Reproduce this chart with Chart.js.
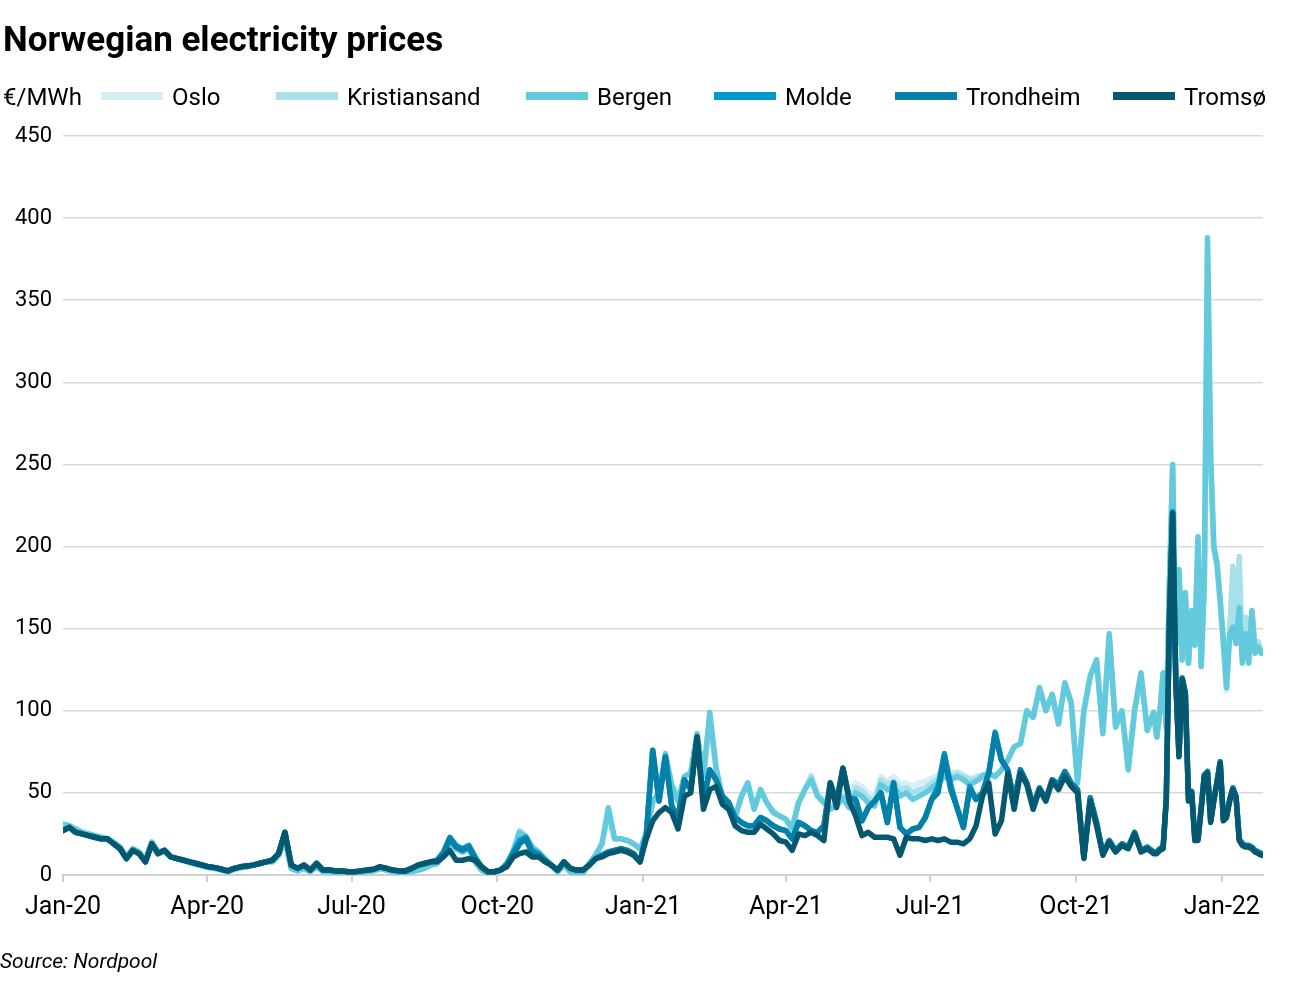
<!DOCTYPE html>
<html>
<head>
<meta charset="utf-8">
<script src="https://cdn.jsdelivr.net/npm/chart.js@4.4.1/dist/chart.umd.min.js"></script>
<style>
  html, body { margin: 0; padding: 0; background: #fff; }
  #chart { display: block; }
</style>
</head>
<body>
<canvas id="chart" width="1300" height="1000"></canvas>
<script>
// Daily prices, sampled every 4 days up to mid Nov 2021, then every 2 days (day 0 = 1 Jan 2020)
const titleText = 'Norwegian electricity prices';
const unitText = '€/MWh';
const sourceText = 'Source: Nordpool';

const seriesNames = ['Oslo', 'Kristiansand', 'Bergen', 'Molde', 'Trondheim', 'Tromsø'];
const seriesColors = ['#d5eff4', '#a9e1ea', '#63cadd', '#0099cc', '#0581a9', '#05586f'];

const tickDays = [0, 91, 182, 274, 366, 456, 547, 639, 731];
const tickLabels = ['Jan-20', 'Apr-20', 'Jul-20', 'Oct-20', 'Jan-21', 'Apr-21', 'Jul-21', 'Oct-21', 'Jan-22'];

const sampleDays = [];
for (let d = 0; d < 690; d += 4) sampleDays.push(d);
for (let d = 690; d <= 756; d += 2) sampleDays.push(d);

const oslo = [
  30, 29, 27, 26, 25, 24, 23, 22, 20, 17,
  11, 16, 14, 9, 20, 14, 15, 11, 10, 9,
  7.5, 6.5, 5.5, 4.5, 4, 3, 2, 3.5, 4.5, 5,
  6, 7, 8, 8, 12, 22, 4, 2.5, 4, 2,
  5, 2, 2, 1.5, 1.5, 1.5, 1.5, 1.5, 2, 2.5,
  4, 3, 2, 1.5, 1.5, 2, 3, 4, 6, 7,
  12, 20, 16, 14, 16, 8, 3, 1, 1.5, 3,
  6, 15, 26, 23, 17, 14, 10, 6, 2, 6,
  2, 1, 1, 7, 12, 19, 36, 22, 22, 21,
  19, 16, 25, 44, 50, 72, 55, 45, 60, 62,
  84, 60, 92, 65, 47, 42, 36, 48, 56, 41,
  52, 44, 39, 36, 34, 29, 44, 52, 61, 49,
  46, 42, 45, 50, 47, 56, 54, 50, 48, 60,
  57, 60, 55, 56, 54, 56, 57, 59, 61, 63,
  62, 63, 61, 59, 60, 61, 62, 60, 64, 70,
  78, 80, 100, 96, 114, 100, 110, 92, 117, 105,
  58, 100, 121, 131, 88, 145, 92, 100, 66, 100,
  123, 88, 99,
  84, 100, 123, 90, 178, 248, 140, 186, 131, 170,
  129, 161, 140, 204, 127, 178, 375, 250, 198, 188,
  165, 140, 112, 148, 175, 148, 180, 133, 150, 138,
  155, 138, 140, 135
];

const kristiansand = [
  30, 29, 27, 26, 25, 24, 23, 22, 20, 17,
  11, 16, 14, 9, 20, 14, 15, 11, 10, 9,
  7.5, 6.5, 5.5, 4.5, 4, 3, 2, 3.5, 4.5, 5,
  6, 7, 8, 8, 12, 22, 4, 2.5, 4, 2,
  5, 2, 2, 1.5, 1.5, 1.5, 1.5, 1.5, 2, 2.5,
  4, 3, 2, 1.5, 1.5, 2, 3, 4, 6, 7,
  12, 20, 16, 14, 16, 8, 3, 1, 1.5, 3,
  6, 15, 27, 24, 17, 14, 10, 6, 2, 6,
  2, 1, 1, 7, 12, 19, 38, 22, 22, 21,
  19, 16, 25, 44, 50, 72, 55, 45, 60, 62,
  86, 60, 95, 65, 47, 42, 36, 48, 56, 41,
  52, 44, 39, 36, 34, 29, 44, 52, 60, 49,
  45, 41, 43, 48, 44, 53, 51, 47, 45, 58,
  55, 57, 52, 53, 50, 52, 53, 56, 59, 62,
  60, 62, 60, 58, 59, 61, 62, 60, 64, 70,
  78, 80, 100, 96, 114, 100, 110, 92, 117, 105,
  58, 100, 121, 131, 88, 145, 92, 100, 66, 100,
  123, 88, 99,
  84, 100, 123, 90, 178, 248, 140, 186, 131, 170,
  129, 161, 140, 204, 127, 178, 380, 250, 198, 188,
  167, 142, 114, 150, 188, 150, 194, 135, 157, 140,
  161, 140, 142, 136
];

const bergen = [
  31, 30, 28, 26, 25, 24, 23, 22, 20, 17,
  11, 16, 14, 9, 20, 14, 15, 11, 10, 9,
  7.5, 6.5, 5.5, 4.5, 4, 3, 2, 3.5, 4.5, 5,
  6, 7, 8, 8, 12, 22, 4, 2.5, 4, 2,
  5, 2, 2, 1.5, 1.5, 1.5, 1.5, 1.5, 2, 2.5,
  4, 3, 2, 1.5, 1.5, 2, 3, 4, 6, 7,
  12, 20, 16, 14, 16, 8, 3, 1, 1.5, 3,
  6, 14, 26, 23, 17, 14, 10, 6, 2, 6,
  2, 1, 1, 7, 12, 19, 41, 22, 22, 21,
  19, 16, 25, 45, 50, 74, 55, 45, 60, 62,
  86, 60, 99, 65, 47, 42, 35, 48, 56, 40,
  52, 44, 38, 36, 34, 28, 44, 52, 58, 48,
  44, 40, 42, 47, 41, 50, 48, 44, 42, 55,
  52, 54, 48, 50, 46, 48, 50, 53, 56, 60,
  58, 60, 58, 55, 57, 60, 62, 60, 64, 70,
  78, 80, 100, 96, 114, 100, 110, 92, 117, 105,
  56, 100, 121, 131, 86, 147, 90, 100, 64, 100,
  123, 88, 99,
  84, 100, 123, 90, 178, 250, 140, 186, 131, 172,
  129, 161, 140, 206, 127, 180, 388, 255, 200, 190,
  167, 142, 114, 147, 151, 141, 163, 129, 147, 129,
  161, 135, 139, 135
];

const molde = [
  27, 29, 26, 25, 24, 23, 22, 22, 19, 16,
  10, 15, 13, 8, 19, 13, 15, 11, 10, 9,
  8, 7, 6, 5, 4.5, 3.5, 2.5, 4, 5, 5.5,
  6, 7, 8, 9, 13, 26, 6, 4, 6, 3,
  7, 3, 3, 2.5, 2.5, 2, 2, 2.5, 3, 3.5,
  5, 4, 3, 2.5, 2.5, 4, 6, 7, 8, 9,
  14, 23, 18, 16, 18, 11, 5, 2, 2, 3,
  7, 14, 21, 23, 15, 13, 9, 6, 3, 8,
  4, 3, 3, 6, 10, 12, 14, 15, 16, 15,
  13, 8, 25, 76, 45, 72, 42, 35, 58, 52,
  84, 45, 64, 58, 48, 44, 35, 32, 30, 30,
  35, 33, 30, 28, 27, 22, 32, 30, 27, 26,
  30, 56, 45, 65, 47, 46, 33, 41, 45, 50,
  32, 56, 29, 25, 28, 29, 35, 46, 54, 74,
  55, 41, 29, 54, 46, 50, 62, 87, 70, 64,
  45, 64, 56, 42, 53, 46, 58, 55, 63, 56,
  52, 11, 47, 32, 13, 21, 15, 19, 17, 26,
  15, 17, 14,
  14, 16, 17, 47, 158, 221, 118, 73, 120, 111,
  46, 51, 22, 22, 41, 61, 63, 33, 46, 57,
  69, 34, 36, 46, 53, 48, 22, 19, 18, 18,
  17, 15, 14, 13
];

const trondheim = [
  27, 29, 26, 25, 24, 23, 22, 22, 19, 16,
  10, 15, 13, 8, 19, 13, 15, 11, 10, 9,
  8, 7, 6, 5, 4.5, 3.5, 2.5, 4, 5, 5.5,
  6, 7, 8, 9, 13, 26, 6, 4, 6, 3,
  7, 3, 3, 2.5, 2.5, 2, 2, 2.5, 3, 3.5,
  5, 4, 3, 2.5, 2.5, 4, 6, 7, 8, 9,
  13, 22, 17, 15, 17, 10, 5, 2, 2, 3,
  6, 12, 19, 22, 13, 12, 9, 6, 3, 8,
  4, 3, 3, 6, 10, 12, 14, 15, 16, 15,
  13, 8, 25, 76, 45, 72, 42, 35, 58, 52,
  84, 45, 64, 58, 48, 44, 35, 32, 30, 30,
  35, 33, 30, 28, 27, 22, 32, 30, 27, 26,
  30, 56, 45, 65, 47, 46, 33, 41, 45, 50,
  32, 56, 29, 25, 28, 29, 35, 46, 50, 72,
  52, 41, 29, 52, 46, 50, 62, 86, 70, 64,
  45, 64, 56, 42, 53, 46, 58, 55, 63, 56,
  52, 11, 47, 32, 13, 21, 15, 19, 17, 26,
  15, 17, 14,
  14, 16, 17, 47, 158, 221, 118, 73, 120, 111,
  46, 51, 22, 22, 41, 61, 63, 33, 46, 57,
  69, 34, 36, 46, 53, 48, 22, 19, 18, 18,
  17, 15, 14, 13
];

const tromso = [
  27, 29, 26, 25, 24, 23, 22, 22, 19, 16,
  10, 15, 13, 8, 19, 13, 15, 11, 10, 9,
  8, 7, 6, 5, 4.5, 3.5, 2.5, 4, 5, 5.5,
  6, 7, 8, 9, 13, 26, 6, 4, 6, 3,
  7, 3, 3, 2.5, 2.5, 2, 2, 2.5, 3, 3.5,
  5, 4, 3, 2.5, 2.5, 4, 6, 7, 8, 8,
  11, 15, 9, 9, 10, 9, 5, 2, 2, 3,
  5, 11, 13, 14, 11, 11, 8, 6, 3, 8,
  4, 3, 3, 6, 10, 11, 13, 14, 15, 14,
  12, 8, 22, 33, 38, 41, 38, 28, 48, 50,
  84, 40, 52, 54, 43, 40, 30, 27, 26, 26,
  31, 28, 25, 21, 20, 15, 25, 24, 26, 24,
  21, 56, 41, 65, 45, 36, 24, 26, 23, 23,
  23, 22, 12, 23, 22, 22, 21, 22, 21, 22,
  20, 20, 19, 22, 30, 48, 56, 25, 33, 62,
  40, 62, 55, 40, 52, 45, 57, 52, 60, 54,
  50, 10, 45, 30, 12, 20, 14, 18, 16, 25,
  14, 16, 13,
  13, 15, 16, 46, 157, 220, 117, 72, 119, 110,
  45, 50, 21, 21, 40, 60, 62, 32, 45, 56,
  68, 33, 35, 45, 52, 47, 21, 18, 17, 17,
  16, 14, 13, 12
];

const seriesValues = [oslo, kristiansand, bergen, molde, trondheim, tromso];

// legend box left edges (px) as laid out in the original
const legendX = [101, 276, 526, 714, 895, 1113];

const FONT = 'Roboto, "Open Sans", sans-serif';

const textPlugin = {
  id: 'chartText',
  afterDraw(chart) {
    const ctx = chart.ctx;
    ctx.save();
    ctx.fillStyle = '#000';
    ctx.textBaseline = 'alphabetic';
    ctx.textAlign = 'left';
    ctx.font = 'bold 35px ' + FONT;
    ctx.fillText(titleText, 3, 51);
    ctx.font = '24px ' + FONT;
    ctx.fillText(unitText, 3, 105);
    seriesNames.forEach((name, i) => {
      ctx.fillStyle = seriesColors[i];
      ctx.fillRect(legendX[i], 92, 62, 8);
      ctx.fillStyle = '#000';
      ctx.fillText(name, legendX[i] + 71, 105);
    });
    ctx.font = 'italic 21px ' + FONT;
    ctx.fillText(sourceText, 0, 968);
    ctx.restore();
  }
};

new Chart(document.getElementById('chart').getContext('2d'), {
  type: 'line',
  data: {
    datasets: seriesNames.map((name, i) => ({
      label: name,
      data: seriesValues[i].map((v, j) => ({ x: sampleDays[j], y: v })),
      borderColor: seriesColors[i],
      backgroundColor: seriesColors[i],
      order: seriesNames.length - i
    }))
  },
  options: {
    responsive: false,
    animation: false,
    layout: { padding: { top: 136, right: 37, bottom: 0, left: 0 } },
    elements: {
      point: { radius: 0 },
      line: { borderWidth: 5.5, tension: 0, borderJoinStyle: 'round', borderCapStyle: 'round' }
    },
    plugins: {
      legend: { display: false },
      tooltip: { enabled: false }
    },
    scales: {
      x: {
        type: 'linear',
        min: 0,
        max: 757,
        afterBuildTicks: (scale) => { scale.ticks = tickDays.map(v => ({ value: v })); },
        afterFit: (scale) => { scale.height = 125; },
        ticks: {
          autoSkip: false,
          maxRotation: 0,
          padding: 11,
          color: '#000',
          font: { family: FONT, size: 25 },
          callback: (value, index) => tickLabels[index]
        },
        grid: { drawOnChartArea: false, drawTicks: true, tickLength: 7, color: '#d0d0d0', lineWidth: 2 },
        border: { color: '#d0d0d0', width: 2 }
      },
      y: {
        min: 0,
        max: 450,
        afterFit: (scale) => { scale.width = 63; },
        ticks: { stepSize: 50, padding: 11, color: '#000', font: { family: FONT, size: 22 } },
        grid: { color: '#d9d9d9', lineWidth: 1.5, drawTicks: false },
        border: { display: false }
      }
    }
  },
  plugins: [textPlugin]
});
</script>
</body>
</html>
